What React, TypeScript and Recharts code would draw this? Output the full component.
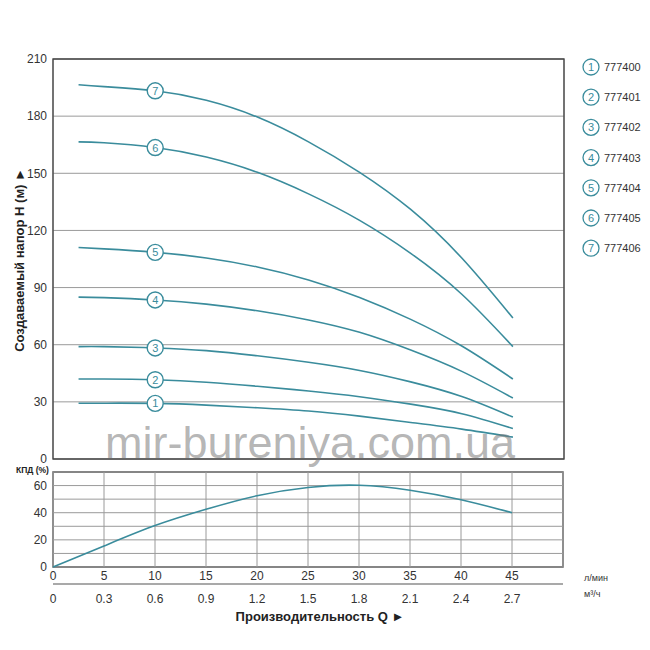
import { CartesianGrid, Line, LineChart, ReferenceArea, ReferenceLine, XAxis, YAxis } from "recharts";

const flow = [2.5, 5, 10, 15, 20, 25, 30, 35, 40, 45];
const head1 = [29.3, 29.3, 29.2, 28.3, 26.9, 25.2, 22.5, 19.2, 15.7, 11.5];
const head2 = [42, 42, 41.6, 40.3, 38.2, 35.7, 32.7, 28.8, 23.8, 16];
const head3 = [59, 59, 58.3, 56.9, 54.2, 50.8, 46.5, 40.5, 32.8, 22];
const head4 = [85, 84.7, 83.5, 81.3, 77.8, 73, 66.5, 57.2, 46, 32];
const head5 = [111, 110.3, 108.5, 105.5, 100.8, 94, 84.8, 73.3, 59.3, 42];
const head6 = [166.5, 166, 163.5, 158.5, 150.5, 139.2, 125.3, 108, 86.5, 59];
const head7 = [196.5, 195.5, 193.3, 188.3, 179.5, 166.5, 150.5, 131, 105.5, 74];
const models = ["777400", "777401", "777402", "777403", "777404", "777405", "777406"];

const effFlow = [0, 5, 10, 15, 20, 25, 30, 35, 40, 45];
const efficiency = [0, 15.5, 30.5, 42.5, 52.5, 58.6, 60.2, 56.5, 49.5, 40];

const flowTicks = [0, 5, 10, 15, 20, 25, 30, 35, 40, 45, 50];
const lpmLabels = ["0", "5", "10", "15", "20", "25", "30", "35", "40", "45", ""];
const m3Labels = ["0", "0.3", "0.6", "0.9", "1.2", "1.5", "1.8", "2.1", "2.4", "2.7", ""];
const headTicks = [0, 30, 60, 90, 120, 150, 180, 210];
const effTicks = [0, 10, 20, 30, 40, 50, 60, 70];

const TEAL = "#3a8c9c";
const FONT = "'Liberation Sans', Arial, sans-serif";
const GRID = "#9a9a9a";

const heads = [head1, head2, head3, head4, head5, head6, head7];
const headRows = flow.map((q, i) => {
  const row: Record<string, number> = { q };
  heads.forEach((h, k) => (row[`h${k + 1}`] = h[i]));
  return row;
});
const effRows = effFlow.map((q, i) => ({ q, eff: efficiency[i] }));

const tickStyle = { fontSize: 12, fill: "#333", fontFamily: FONT };

function markerDot(n: number) {
  return (props: any) => {
    const { cx, cy, payload, index } = props;
    if (payload.q !== 10) return <g key={`d${n}-${index}`} />;
    return (
      <g key={`d${n}-${index}`}>
        <circle cx={cx} cy={cy} r={8} fill="#fff" stroke={TEAL} strokeWidth={1.4} />
        <text x={cx} y={cy} dy="0.36em" textAnchor="middle" fontSize={11} fill={TEAL} fontFamily={FONT}>
          {n}
        </text>
      </g>
    );
  };
}

export default function App() {
  return (
    <div style={{ position: "absolute", left: 0, top: 0, width: 650, height: 650, background: "#fff" }}>
      {/* head curves */}
      <div style={{ position: "absolute", left: 0, top: 0 }}>
        <LineChart width={650} height={470} data={headRows} margin={{ top: 59, right: 86, bottom: 11, left: 0 }}>
          <CartesianGrid stroke={GRID} strokeWidth={1} />
          <XAxis
            dataKey="q"
            type="number"
            domain={[0, 50]}
            ticks={flowTicks}
            height={0}
            tick={false}
            axisLine={false}
            tickLine={false}
          />
          <YAxis
            type="number"
            domain={[0, 210]}
            ticks={headTicks}
            width={53}
            axisLine={false}
            tickLine={false}
            tickSize={4}
            tick={tickStyle}
          />
          <ReferenceArea x1={0} x2={50} y1={0} y2={210} fill="none" fillOpacity={0} stroke="#444" strokeWidth={1.3} />
          {heads.map((_, k) => (
            <Line
              key={k}
              type="natural"
              dataKey={`h${k + 1}`}
              stroke={TEAL}
              strokeWidth={1.6}
              dot={markerDot(k + 1)}
              activeDot={false}
              isAnimationActive={false}
            />
          ))}
        </LineChart>
      </div>

      {/* efficiency */}
      <div style={{ position: "absolute", left: 0, top: 0 }}>
        <LineChart width={650} height={650} data={effRows} margin={{ top: 472, right: 87, bottom: 36, left: 0 }}>
          <XAxis
            xAxisId="lpm"
            dataKey="q"
            type="number"
            domain={[0, 50]}
            ticks={flowTicks}
            height={17}
            axisLine={false}
            tickLine={false}
            tickSize={2}
            tick={tickStyle}
            tickFormatter={(v: number) => lpmLabels[flowTicks.indexOf(v)] ?? ""}
          />
          <XAxis
            xAxisId="m3"
            dataKey="q"
            type="number"
            domain={[0, 50]}
            ticks={flowTicks}
            height={30}
            axisLine={{ stroke: "#555", strokeWidth: 1.2 }}
            tickLine={false}
            tickSize={8}
            tick={tickStyle}
            tickFormatter={(v: number) => m3Labels[flowTicks.indexOf(v)] ?? ""}
          />
          <YAxis
            type="number"
            domain={[0, 70]}
            ticks={effTicks}
            width={53}
            axisLine={false}
            tickLine={false}
            tickSize={4}
            tick={tickStyle}
            tickFormatter={(v: number) => (v % 20 === 0 && v < 70 ? String(v) : "")}
          />
          {effTicks.map((v) => (
            <ReferenceLine key={`gy${v}`} xAxisId="lpm" y={v} stroke={GRID} strokeWidth={1} />
          ))}
          {flowTicks.map((v) => (
            <ReferenceLine key={`gx${v}`} xAxisId="lpm" x={v} stroke={GRID} strokeWidth={1} />
          ))}
          <ReferenceArea xAxisId="lpm" x1={0} x2={50} y1={0} y2={70} fill="none" fillOpacity={0} stroke="#444" strokeWidth={1.3} />
          <Line
            xAxisId="lpm"
            type="natural"
            dataKey="eff"
            stroke={TEAL}
            strokeWidth={1.6}
            dot={false}
            activeDot={false}
            isAnimationActive={false}
          />
        </LineChart>
      </div>

      {/* titles, legend, watermark */}
      <svg width={650} height={650} style={{ position: "absolute", left: 0, top: 0, pointerEvents: "none" }} fontFamily={FONT}>
        <text
          transform="translate(24 260) rotate(-90)"
          textAnchor="middle"
          fontSize={13}
          fontWeight="bold"
          fill="#222"
        >
          Создаваемый напор H (м) ►
        </text>
        <text x={16} y={473} fontSize={8.5} fontWeight="bold" fill="#222">
          КПД (%)
        </text>
        <text x={320} y={621} textAnchor="middle" fontSize={13} fontWeight="bold" fill="#222">
          Производительность Q ►
        </text>
        <text x={584} y={581} fontSize={9} fill="#333">
          л/мин
        </text>
        <text x={584} y={597} fontSize={9} fill="#333">
          м³/ч
        </text>
        {models.map((m, i) => {
          const y = 67 + i * 30.2;
          return (
            <g key={m}>
              <circle cx={591} cy={y} r={8} fill="#fff" stroke={TEAL} strokeWidth={1.3} />
              <text x={591} y={y} dy="0.36em" textAnchor="middle" fontSize={11} fill={TEAL}>
                {i + 1}
              </text>
              <text x={604} y={y} dy="0.36em" fontSize={11} fill="#333">
                {m}
              </text>
            </g>
          );
        })}
        <text x={105} y={458} fontSize={45} fill="rgba(120,120,120,0.55)">
          mir-bureniya.com.ua
        </text>
      </svg>
    </div>
  );
}
